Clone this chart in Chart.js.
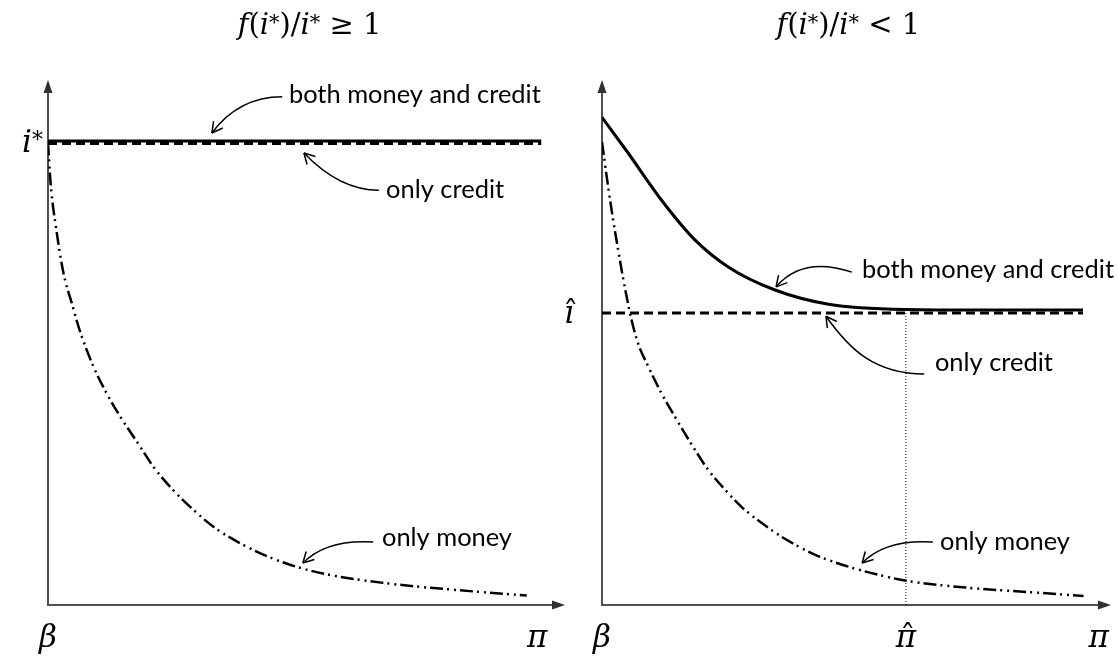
<!DOCTYPE html>
<html>
<head>
<meta charset="utf-8">
<script src="https://cdn.jsdelivr.net/npm/chart.js@4.4.1/dist/chart.umd.min.js"></script>
<style>
  body { margin: 0; background: #fff; }
  #wrap { position: relative; width: 1118px; height: 660px; overflow: hidden; }
  #left, #right { position: absolute; top: 0; }
  #left { left: 0; }
  #right { left: 540px; }
</style>
</head>
<body>
<div id="wrap">
  <canvas id="left" width="600" height="660"></canvas>
  <canvas id="right" width="578" height="660"></canvas>
</div>
<script>
// ---- data (pi on x, i on y, both axes in arbitrary units 0..10) ----

// left panel: f(i*)/i* >= 1
var leftBothPi   = [0, 9.54];
var leftBothI    = [8.84, 8.84];
var leftCreditPi = [0, 9.54];
var leftCreditI  = [8.79, 8.79];
var leftMoneyPi  = [0, 0.05, 0.17, 0.30, 0.46, 0.62, 0.88, 1.14, 1.39, 1.78, 2.04, 2.42, 2.75, 3.20, 3.71, 4.36, 4.94, 5.52, 6.67, 7.97, 9.26];
var leftMoneyI   = [8.81, 8.04, 7.09, 6.32, 5.75, 5.21, 4.54, 4.02, 3.60, 3.02, 2.63, 2.19, 1.87, 1.49, 1.18, 0.88, 0.69, 0.56, 0.40, 0.28, 0.18];

// right panel: f(i*)/i* < 1
var rightBothPi   = [0, 0.52, 1.17, 1.83, 2.48, 3.40, 4.45, 5.95, 7.50, 9.45];
var rightBothI    = [9.29, 8.60, 7.71, 6.95, 6.44, 6.00, 5.73, 5.63, 5.62, 5.62];
var rightCreditPi = [0, 9.45];
var rightCreditI  = [5.56, 5.56];
var rightMoneyPi  = [0, 0.12, 0.26, 0.55, 0.71, 0.91, 1.17, 1.43, 1.83, 2.09, 2.48, 2.74, 3.14, 3.53, 4.18, 4.84, 5.50, 5.99, 7.17, 8.47, 9.46];
var rightMoneyI   = [8.82, 7.97, 7.09, 5.56, 4.98, 4.54, 4.03, 3.59, 2.95, 2.57, 2.13, 1.87, 1.56, 1.30, 0.96, 0.73, 0.56, 0.46, 0.33, 0.24, 0.17];

// special values
var iStar = 8.81;
var iHat  = 5.56;
var piHat = 5.97;

// axis labels (positions on the pi axis)
var leftXLabels  = ['β', 'π'];
var leftXAt      = [0, 9.46];
var rightXLabels = ['β', 'π̂', 'π'];
var rightXAt     = [0, piHat, 9.76];

var MATH = '"DejaVu Serif", "Liberation Serif", serif';
var SANS = 'Lato, "Open Sans", sans-serif';

function pts(xs, ys) {
  return xs.map(function (x, k) { return { x: x, y: ys[k] }; });
}

// draws a math string made of parts: [text, kind], kind r=roman i=italic s=superscript h=italic with hat
function mathText(ctx, parts, x, y, size, align) {
  function font(k) {
    if (k === 's') return Math.round(size * 0.72) + 'px ' + MATH;
    return (k === 'i' || k === 'h' ? 'italic ' : '') + size + 'px ' + MATH;
  }
  var total = 0;
  var widths = parts.map(function (p) {
    ctx.font = font(p[1]);
    var w = ctx.measureText(p[0]).width;
    total += w;
    return w;
  });
  var cx = align === 'center' ? x - total / 2 : (align === 'right' ? x - total : x);
  ctx.textAlign = 'left';
  ctx.textBaseline = 'alphabetic';
  parts.forEach(function (p, k) {
    ctx.font = font(p[1]);
    ctx.fillText(p[0], cx, p[1] === 's' ? y - size * 0.18 : y);
    if (p[1] === 'h') {
      ctx.font = size + 'px ' + MATH;
      ctx.textAlign = 'center';
      ctx.fillText('ˆ', cx + widths[k] / 2 + size * 0.06, y + size * 0.02);
      ctx.textAlign = 'left';
    }
    cx += widths[k];
  });
}

function arrowHead(ctx, x, y, ang, len) {
  [-0.5, 0.5].forEach(function (d) {
    ctx.beginPath();
    ctx.moveTo(x, y);
    ctx.lineTo(x - len * Math.cos(ang + d), y - len * Math.sin(ang + d));
    ctx.stroke();
  });
}

var noteSize = null;
function fitNoteSize(ctx) {
  if (noteSize) return noteSize;
  ctx.font = '26px ' + SANS;
  noteSize = 26 * 252 / ctx.measureText('both money and credit').width;
  return noteSize;
}

var sketchPlugin = {
  id: 'sketch',
  beforeDatasetsDraw: function (chart) {
    var ctx = chart.ctx, a = chart.chartArea;
    ctx.save();
    ctx.strokeStyle = '#505050';
    ctx.fillStyle = '#303030';
    ctx.lineWidth = 2;
    ctx.beginPath();
    ctx.moveTo(a.left, a.top + 6);
    ctx.lineTo(a.left, a.bottom);
    ctx.lineTo(a.right - 6, a.bottom);
    ctx.stroke();
    // arrow heads
    ctx.beginPath();
    ctx.moveTo(a.left, a.top);
    ctx.lineTo(a.left - 4.5, a.top + 13);
    ctx.lineTo(a.left + 4.5, a.top + 13);
    ctx.closePath();
    ctx.fill();
    ctx.beginPath();
    ctx.moveTo(a.right, a.bottom);
    ctx.lineTo(a.right - 13, a.bottom - 4.5);
    ctx.lineTo(a.right - 13, a.bottom + 4.5);
    ctx.closePath();
    ctx.fill();
    ctx.restore();
  },
  afterDatasetsDraw: function (chart, args, opts) {
    var ctx = chart.ctx, a = chart.chartArea;
    var xs = chart.scales.x, ys = chart.scales.y;
    ctx.save();
    ctx.fillStyle = '#000';
    ctx.strokeStyle = '#000';

    // title
    mathText(ctx, opts.title, xs.getPixelForValue(opts.titleAt), a.top - 46, 29, 'center');

    // pi-axis labels
    opts.xLabels.forEach(function (t, k) {
      var kind = t === 'π̂' ? 'h' : 'i';
      var ch = t === 'π̂' ? 'π' : t;
      mathText(ctx, [[ch, kind]], xs.getPixelForValue(opts.xAt[k]), a.bottom + 42, 31, 'center');
    });

    // i-axis label
    mathText(ctx, opts.yLabel, a.left + opts.yLabelDx, ys.getPixelForValue(opts.yLabelAt) + 10, 31, opts.yLabelAlign);

    // curved arrows with notes
    var fs = fitNoteSize(ctx);
    opts.notes.forEach(function (n) {
      var p = n.path.map(function (q) { return [xs.getPixelForValue(q[0]), ys.getPixelForValue(q[1])]; });
      ctx.lineWidth = 1.5;
      ctx.beginPath();
      ctx.moveTo(p[0][0], p[0][1]);
      ctx.bezierCurveTo(p[1][0], p[1][1], p[2][0], p[2][1], p[3][0], p[3][1]);
      ctx.stroke();
      arrowHead(ctx, p[3][0], p[3][1], Math.atan2(p[3][1] - p[2][1], p[3][0] - p[2][0]), 12);
      ctx.font = fs + 'px ' + SANS;
      ctx.textAlign = 'left';
      ctx.textBaseline = 'middle';
      ctx.fillText(n.text, xs.getPixelForValue(n.at[0]), ys.getPixelForValue(n.at[1]));
    });
    ctx.restore();
  }
};

function lineSet(label, data, width, dash, smooth) {
  return {
    label: label,
    data: data,
    showLine: true,
    borderColor: '#000',
    backgroundColor: '#000',
    borderWidth: width,
    borderDash: dash,
    borderCapStyle: 'butt',
    pointRadius: 0,
    fill: false,
    cubicInterpolationMode: smooth ? 'monotone' : 'default'
  };
}

function makeChart(id, datasets, padding, sketch) {
  return new Chart(document.getElementById(id), {
    type: 'scatter',
    data: { datasets: datasets },
    options: {
      responsive: false,
      animation: false,
      layout: { padding: padding },
      scales: {
        x: { type: 'linear', min: 0, max: 10, display: false },
        y: { type: 'linear', min: 0, max: 10, display: false }
      },
      plugins: {
        legend: { display: false },
        tooltip: { enabled: false },
        sketch: sketch
      }
    },
    plugins: [sketchPlugin]
  });
}

// ======
// left panel
// ======
makeChart('left', [
  lineSet('both money and credit', pts(leftBothPi, leftBothI), 3, [], false),
  lineSet('only credit', pts(leftCreditPi, leftCreditI), 3, [9, 5], false),
  lineSet('only money', pts(leftMoneyPi, leftMoneyI), 2.5, [13, 4, 2, 5, 2, 4], true)
], { left: 48, right: 35, top: 80, bottom: 55 }, {
  title: [['f', 'i'], ['(', 'r'], ['i', 'i'], ['*', 's'], [')/', 'r'], ['i', 'i'], ['*', 's'], [' ≥ 1', 'r']],
  titleAt: 5.06,
  xLabels: leftXLabels,
  xAt: leftXAt,
  yLabel: [['i', 'i'], ['*', 's']],
  yLabelAt: iStar,
  yLabelDx: -5,
  yLabelAlign: 'right',
  notes: [
    { text: 'both money and credit', at: [4.66, 9.71], path: [[4.53, 9.68], [3.90, 9.68], [3.48, 9.40], [3.17, 8.99]] },
    { text: 'only credit', at: [6.54, 7.90], path: [[6.40, 7.90], [5.84, 7.90], [5.36, 8.19], [4.95, 8.61]] },
    { text: 'only money', at: [6.46, 1.28], path: [[6.29, 1.20], [5.65, 1.24], [5.22, 1.09], [4.93, 0.80]] }
  ]
});

// ======
// right panel
// ======
makeChart('right', [
  lineSet('both money and credit', pts(rightBothPi, rightBothI), 3, [], true),
  lineSet('only credit', pts(rightCreditPi, rightCreditI), 3, [9, 5], false),
  lineSet('only money', pts(rightMoneyPi, rightMoneyI), 2.5, [13, 4, 2, 5, 2, 4], true),
  lineSet('pi hat', pts([piHat, piHat], [0, iHat]), 1, [1, 2], false)
], { left: 62, right: 7, top: 80, bottom: 55 }, {
  title: [['f', 'i'], ['(', 'r'], ['i', 'i'], ['*', 's'], [')/', 'r'], ['i', 'i'], ['*', 's'], [' < 1', 'r']],
  titleAt: 4.84,
  xLabels: rightXLabels,
  xAt: rightXAt,
  yLabel: [['ı', 'h']],
  yLabelAt: iHat,
  yLabelDx: -33,
  yLabelAlign: 'center',
  notes: [
    { text: 'both money and credit', at: [5.11, 6.38], path: [[4.91, 6.34], [4.32, 6.53], [3.79, 6.48], [3.42, 6.06]] },
    { text: 'only credit', at: [6.54, 4.61], path: [[6.33, 4.40], [5.36, 4.40], [4.87, 4.86], [4.40, 5.50]] },
    { text: 'only money', at: [6.64, 1.20], path: [[6.50, 1.20], [5.85, 1.24], [5.40, 1.09], [5.11, 0.80]] }
  ]
});
</script>
</body>
</html>
